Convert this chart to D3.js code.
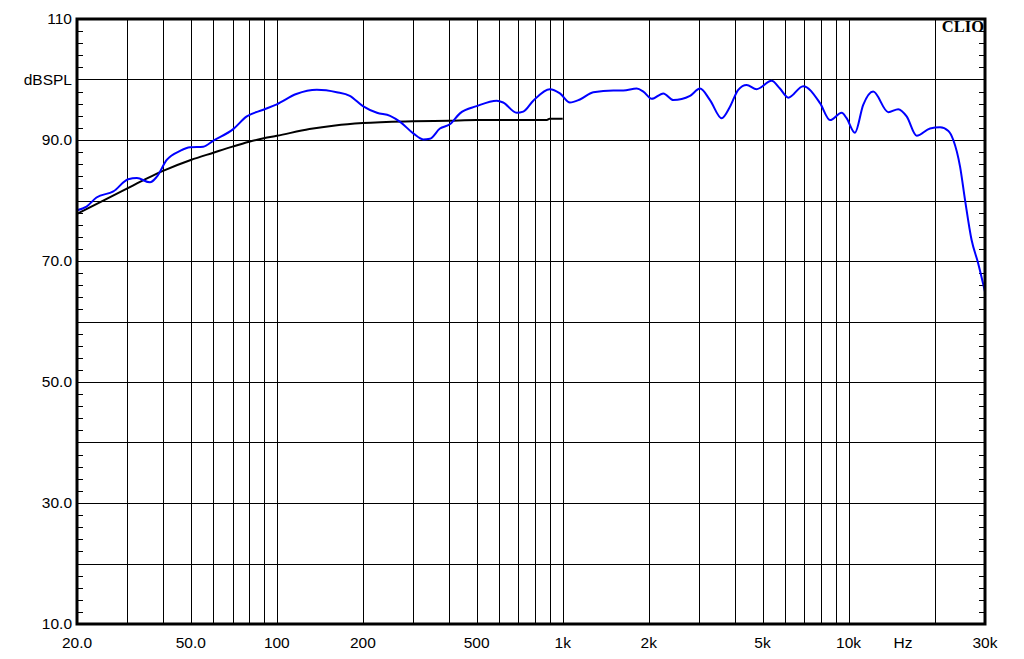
<!DOCTYPE html>
<html><head><meta charset="utf-8">
<script src="https://cdn.jsdelivr.net/npm/d3@7"></script>
<style>
html,body{margin:0;padding:0;background:#fff;}
svg{display:block;}
text{font-family:"Liberation Sans",Arial,sans-serif;fill:#000;}
</style></head>
<body>
<svg id="chart" width="1024" height="659"></svg>
<script>
// Data
const blueFreq = [20,21.6,23.4,26.8,30.2,32.4,36,38,41.2,45.9,49.7,55.3,60,70.4,78.5,89.7,100,117,138,162,180,200,224,249,270,300,325,343,372,403,437,500,588,619,690,728,789,902,978,1060,1149,1279,1503,1629,1815,1914,2047,2248,2438,2788,3022,3275,3598,3846,4111,4398,4768,5380,5752,6152,6936,7944,8610,9460,9840,10520,11250,12190,13770,14920,15960,17300,19270,20890,22340,23240,24540,25540,26920,28400,30000];
const blueDb = [78.4,79.0,80.5,81.5,83.5,83.7,83.0,83.9,86.7,88.2,88.8,88.9,89.9,91.8,93.9,95.0,95.9,97.6,98.3,97.9,97.3,95.6,94.5,94.0,93.0,91.1,90.1,90.2,91.9,92.6,94.4,95.6,96.5,96.2,94.5,94.7,96.5,98.4,97.7,96.2,96.7,97.9,98.2,98.2,98.5,98.0,96.8,97.7,96.6,97.3,98.5,96.6,93.6,95.5,98.3,99.1,98.4,99.8,98.5,97.0,98.9,96.1,93.3,94.5,93.6,91.2,95.8,98.0,94.6,95.1,93.9,90.7,91.9,92.1,91.5,90.0,85.6,80.1,73.5,69.6,64.9];
const blackFreq = [20,25,30,35,40,50,60,70,80,90,100,130,160,200,300,400,500,700,880,900,1000];
const blackDb = [77.8,80.1,82.0,83.6,84.9,86.7,87.9,88.9,89.7,90.3,90.7,91.8,92.4,92.8,93.1,93.2,93.3,93.3,93.3,93.5,93.5];
const xGrid = [30,40,50,60,70,80,90,100,200,300,400,500,600,700,800,900,1000,2000,3000,4000,5000,6000,7000,8000,9000,10000,20000];
const xTickVals = [20,50,100,200,500,1000,2000,5000,10000,15500,30000];
const xTickLabels = ["20.0","50.0","100","200","500","1k","2k","5k","10k","Hz","30k"];
const yTickVals = [110,100,90,70,50,30,10];
const yTickLabels = ["110","dBSPL","90.0","70.0","50.0","30.0","10.0"];
const yGrid = [20,30,40,50,60,70,80,90,100];

const svg = d3.select("#chart");
const L=77, R=985, T=19, B=624;
const x = d3.scaleLog().domain([20,30000]).range([L,R]);
const y = d3.scaleLinear().domain([10,110]).range([B,T]);

// grid
const g = svg.append("g").attr("shape-rendering","crispEdges");
g.selectAll("line.vx").data(xGrid).enter().append("line")
  .attr("x1",d=>Math.round(x(d))+0.5).attr("x2",d=>Math.round(x(d))+0.5)
  .attr("y1",T).attr("y2",B).attr("stroke","#000").attr("stroke-width",1);
g.selectAll("line.hy").data(yGrid).enter().append("line")
  .attr("y1",d=>Math.round(y(d))+0.5).attr("y2",d=>Math.round(y(d))+0.5)
  .attr("x1",L).attr("x2",R).attr("stroke","#000").attr("stroke-width",1);

// minor ticks left/right every 2 dB
const minor = d3.range(12,110,2).filter(v=>v%10!==0);
g.selectAll("line.ml").data(minor).enter().append("line")
  .attr("x1",L).attr("x2",L+6).attr("y1",d=>Math.round(y(d))+0.5).attr("y2",d=>Math.round(y(d))+0.5)
  .attr("stroke","#000");
g.selectAll("line.mr").data(minor).enter().append("line")
  .attr("x1",R-6).attr("x2",R).attr("y1",d=>Math.round(y(d))+0.5).attr("y2",d=>Math.round(y(d))+0.5)
  .attr("stroke","#000");

// curves
const line = d3.line().x(d=>x(d[0])).y(d=>y(d[1])).curve(d3.curveMonotoneX);
svg.append("path").datum(blackFreq.map((f,i)=>[f,blackDb[i]]))
  .attr("d",line).attr("fill","none").attr("stroke","#000").attr("stroke-width",2);
svg.append("path").datum(blueFreq.map((f,i)=>[f,blueDb[i]]))
  .attr("d",line).attr("fill","none").attr("stroke","#0000ff").attr("stroke-width",2);

// frame
svg.append("rect").attr("x",L).attr("y",T).attr("width",R-L).attr("height",B-T)
  .attr("fill","none").attr("stroke","#000").attr("stroke-width",3);

// labels
svg.selectAll("text.yl").data(yTickVals).enter().append("text")
  .attr("x",72).attr("y",d=>y(d)).attr("dy","0.35em").attr("text-anchor","end")
  .attr("font-size",15.5).text((d,i)=>yTickLabels[i]);
svg.selectAll("text.xl").data(xTickVals).enter().append("text")
  .attr("x",d=>x(d)).attr("y",648).attr("text-anchor","middle")
  .attr("font-size",15.5).text((d,i)=>xTickLabels[i]);

svg.append("text").attr("x",984).attr("y",32).attr("text-anchor","end")
  .style("font-family","'Liberation Serif','Times New Roman',serif")
  .attr("font-weight","bold").attr("font-size",16.5).text("CLIO");
</script>
</body></html>
